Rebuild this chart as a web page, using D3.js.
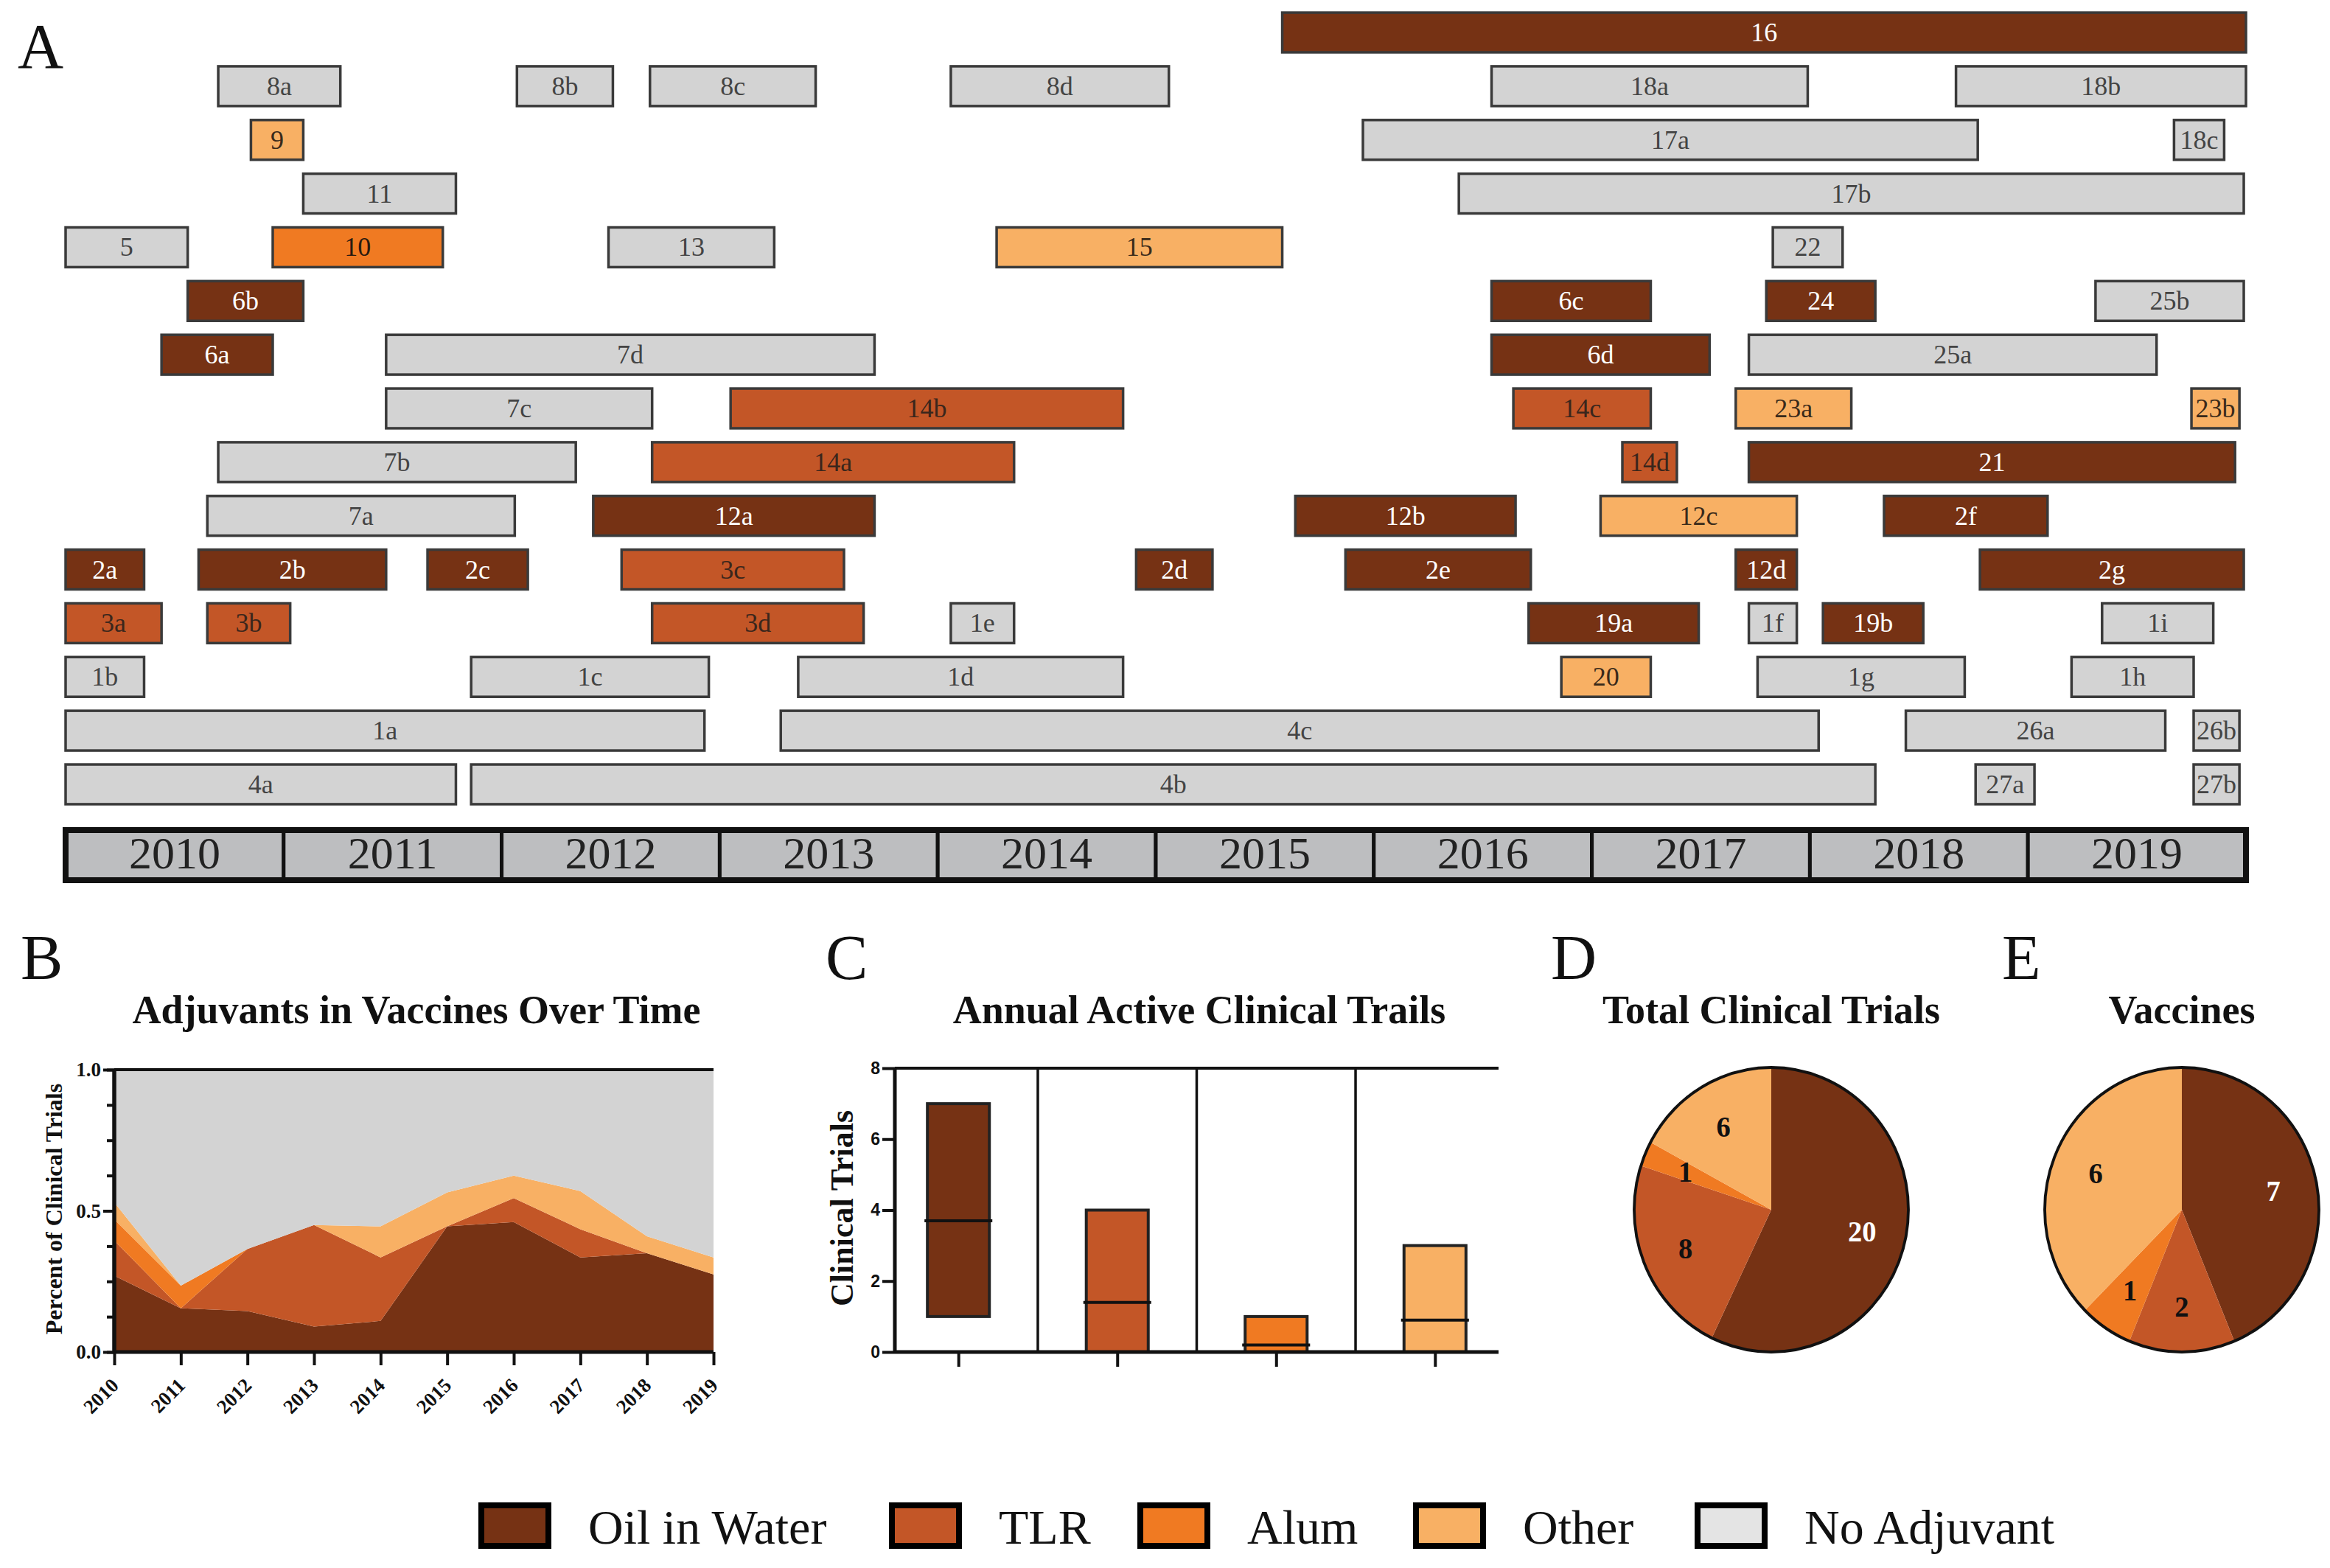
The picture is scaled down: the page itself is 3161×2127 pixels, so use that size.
<!DOCTYPE html>
<html>
<head>
<meta charset="utf-8">
<script src="https://cdn.jsdelivr.net/npm/d3@7"></script>
<style>
  body { margin: 0; background: #fff; }
</style>
</head>
<body>
<svg id="fig"></svg>
<script>
// ---- shared categories ----
const typeKeys   = ["oil", "tlr", "alum", "other", "none"];
const typeNames  = ["Oil in Water", "TLR", "Alum", "Other", "No Adjuvant"];
const typeColors = ["#763214", "#C35627", "#F07A22", "#F8B064", "#D3D3D3"];
const legendFill = ["#763214", "#C35627", "#F07A22", "#F8B064", "#E4E4E4"];

// ---- panel A : trial timeline ----
const years = [2010, 2011, 2012, 2013, 2014, 2015, 2016, 2017, 2018, 2019];
const trialLabels = ["16",
  "8a","8b","8c","8d","18a","18b",
  "9","17a","18c",
  "11","17b",
  "5","10","13","15","22",
  "6b","6c","24","25b",
  "6a","7d","6d","25a",
  "7c","14b","14c","23a","23b",
  "7b","14a","14d","21",
  "7a","12a","12b","12c","2f",
  "2a","2b","2c","3c","2d","2e","12d","2g",
  "3a","3b","3d","1e","19a","1f","19b","1i",
  "1b","1c","1d","20","1g","1h",
  "1a","4c","26a","26b",
  "4a","4b","27a","27b"];
const trialRows = [0,
  1,1,1,1,1,1,
  2,2,2,
  3,3,
  4,4,4,4,4,
  5,5,5,5,
  6,6,6,6,
  7,7,7,7,7,
  8,8,8,8,
  9,9,9,9,9,
  10,10,10,10,10,10,10,10,
  11,11,11,11,11,11,11,11,
  12,12,12,12,12,12,
  13,13,13,13,
  14,14,14,14];
const trialTypes = ["oil",
  "none","none","none","none","none","none",
  "other","none","none",
  "none","none",
  "none","alum","none","other","none",
  "oil","oil","oil","none",
  "oil","none","oil","none",
  "none","tlr","tlr","other","other",
  "none","tlr","tlr","oil",
  "none","oil","oil","other","oil",
  "oil","oil","oil","tlr","oil","oil","oil","oil",
  "tlr","tlr","tlr","none","oil","none","oil","none",
  "none","none","none","other","none","none",
  "none","none","none","none",
  "none","none","none","none"];
const trialStart = [2015.58,
  2010.70,2012.07,2012.68,2014.06,2016.54,2018.67,
  2010.85,2015.95,2019.67,
  2011.09,2016.39,
  2010.00,2010.95,2012.49,2014.27,2017.83,
  2010.56,2016.54,2017.80,2019.31,
  2010.44,2011.47,2016.54,2017.72,
  2011.47,2013.05,2016.64,2017.66,2019.75,
  2010.70,2012.69,2017.14,2017.72,
  2010.65,2012.42,2015.64,2017.04,2018.34,
  2010.00,2010.61,2011.66,2012.55,2014.91,2015.87,2017.66,2018.78,
  2010.00,2010.65,2012.69,2014.06,2016.71,2017.72,2018.06,2019.34,
  2010.00,2011.86,2013.36,2016.86,2017.76,2019.20,
  2010.00,2013.28,2018.44,2019.76,
  2010.00,2011.86,2018.76,2019.76];
const trialEnd = [2020.00,
  2011.26,2012.51,2013.44,2015.06,2017.99,2020.00,
  2011.09,2018.77,2019.90,
  2011.79,2019.99,
  2010.56,2011.73,2013.25,2015.58,2018.15,
  2011.09,2017.27,2018.30,2019.99,
  2010.95,2013.71,2017.54,2019.59,
  2012.69,2014.85,2017.27,2018.19,2019.97,
  2012.34,2014.35,2017.39,2019.95,
  2012.06,2013.71,2016.65,2017.94,2019.09,
  2010.36,2011.47,2012.12,2013.57,2015.26,2016.72,2017.94,2019.99,
  2010.44,2011.03,2013.66,2014.35,2017.49,2017.94,2018.52,2019.85,
  2010.36,2012.95,2014.85,2017.27,2018.71,2019.76,
  2012.93,2018.04,2019.63,2019.97,
  2011.79,2018.30,2019.03,2019.97];

// ---- panel B : share of trials per adjuvant ----
const shareYears = [2010, 2011, 2012, 2013, 2014, 2015, 2016, 2017, 2018, 2019];
const shareOil   = [0.27, 0.155, 0.145, 0.09, 0.11, 0.445, 0.46, 0.335, 0.35, 0.275];
const shareTLR   = [0.125, 0, 0.22, 0.36, 0.225, 0, 0.085, 0.10, 0, 0];
const shareAlum  = [0.075, 0.08, 0, 0, 0, 0, 0, 0, 0, 0];
const shareOther = [0.06, 0, 0, 0, 0.11, 0.12, 0.08, 0.135, 0.06, 0.06];
const shareNone  = [0.47, 0.765, 0.635, 0.55, 0.555, 0.435, 0.375, 0.43, 0.59, 0.665];

// ---- panel C : annual active trials (min / max / mean) ----
const activeMin  = [1, 0, 0, 0];
const activeMax  = [7, 4, 1, 3];
const activeMean = [3.7, 1.4, 0.2, 0.9];

// ---- panels D, E ----
const totalTrials   = [20, 8, 1, 6];
const vaccineCounts = [7, 2, 1, 6];

const SERIF = '"Liberation Serif", "DejaVu Serif", serif';
const SANS = '"Liberation Sans", Arial, sans-serif';
const color = d3.scaleOrdinal().domain(typeKeys).range(typeColors);
const textColor = {oil: "#fff", tlr: "#3a261c", alum: "#2a1a10", other: "#3a2a1a", none: "#444"};

const svg = d3.select("#fig").attr("width", 3161).attr("height", 2127)
  .style("font-family", SERIF);
svg.append("rect").attr("width", 3161).attr("height", 2127).attr("fill", "#fff");

// panel letters
const letters = [["A", 24, 92], ["B", 28, 1328], ["C", 1120, 1328], ["D", 2104, 1328], ["E", 2716, 1328]];
svg.selectAll("text.letter").data(letters).join("text")
  .attr("class", "letter")
  .attr("x", d => d[1]).attr("y", d => d[2])
  .attr("font-size", 86).attr("fill", "#111")
  .text(d => d[0]);

// ================= Panel A =================
const xT = d3.scaleLinear().domain([2010, 2020]).range([89, 3047]);
const yT = d3.scaleBand().domain(d3.range(15)).range([7.6, 1100.4]).paddingInner(0.26).paddingOuter(0.13);

const trials = trialLabels.map((l, i) => ({label: l, row: trialRows[i], type: trialTypes[i], s: trialStart[i], e: trialEnd[i]}));
const gA = svg.append("g");
const tg = gA.selectAll("g.trial").data(trials).join("g").attr("class", "trial");
tg.append("rect")
  .attr("x", d => xT(d.s)).attr("y", d => yT(d.row))
  .attr("width", d => xT(d.e) - xT(d.s)).attr("height", yT.bandwidth())
  .attr("fill", d => color(d.type))
  .attr("stroke", "#3a3a3a").attr("stroke-width", 3.5);
tg.append("text")
  .attr("x", d => (xT(d.s) + xT(d.e)) / 2)
  .attr("y", d => yT(d.row) + yT.bandwidth() / 2 + 12)
  .attr("text-anchor", "middle").attr("font-size", 36)
  .attr("fill", d => textColor[d.type])
  .text(d => d.label);

// year strip
const yearG = gA.append("g");
yearG.selectAll("rect").data(years).join("rect")
  .attr("x", d => xT(d)).attr("y", 1126)
  .attr("width", d => xT(d + 1) - xT(d)).attr("height", 68)
  .attr("fill", "#BDBEC0").attr("stroke", "#111").attr("stroke-width", 5);
yearG.append("rect").attr("x", xT(2010)).attr("y", 1126)
  .attr("width", xT(2020) - xT(2010)).attr("height", 68)
  .attr("fill", "none").attr("stroke", "#111").attr("stroke-width", 8);
yearG.selectAll("text").data(years).join("text")
  .attr("x", d => xT(d + 0.5)).attr("y", 1178)
  .attr("text-anchor", "middle").attr("font-size", 62).attr("fill", "#222")
  .text(d => d);

// ================= Panel B =================
const bL = 155, bR = 968, bT = 1451, bB = 1834;
const xB = d3.scaleLinear().domain([2010, 2019]).range([bL, bR]);
const yB = d3.scaleLinear().domain([0, 1]).range([bB, bT]);
const shareRows = shareYears.map((yr, i) => ({year: yr, oil: shareOil[i], tlr: shareTLR[i], alum: shareAlum[i], other: shareOther[i], none: shareNone[i]}));
const stacked = d3.stack().keys(typeKeys)(shareRows);
const area = d3.area().x(d => xB(d.data.year)).y0(d => yB(d[0])).y1(d => yB(d[1]));
const gB = svg.append("g");
gB.selectAll("path.layer").data(stacked).join("path")
  .attr("class", "layer").attr("d", area).attr("fill", d => color(d.key));

gB.append("line").attr("x1", bL).attr("x2", bR).attr("y1", bT).attr("y2", bT)
  .attr("stroke", "#111").attr("stroke-width", 4);

function styleAxis(a, font, size) {
  a.selectAll("path.domain").attr("stroke", "#111").attr("stroke-width", 5);
  a.selectAll("line").attr("stroke", "#111").attr("stroke-width", 4);
  a.selectAll("text").style("font-family", font).attr("font-weight", "bold")
    .attr("font-size", size).attr("fill", "#111");
}

const axBminor = gB.append("g").attr("transform", `translate(${bL},0)`)
  .call(d3.axisLeft(yB).tickValues(d3.range(0, 1.0001, 0.125)).tickSize(10).tickFormat(""));
const axB = gB.append("g").attr("transform", `translate(${bL},0)`)
  .call(d3.axisLeft(yB).tickValues([0, 0.5, 1]).tickSize(15).tickPadding(3).tickFormat(d3.format(".1f")));
const axBx = gB.append("g").attr("transform", `translate(0,${bB})`)
  .call(d3.axisBottom(xB).tickValues(shareYears).tickSize(18).tickFormat(d3.format("d")));
axBx.selectAll("text")
  .attr("text-anchor", "end").attr("y", 0).attr("dy", 0)
  .attr("transform", "translate(7,47) rotate(-45)");
[axBminor, axB, axBx].forEach(a => styleAxis(a, SERIF, 27));
axBminor.select("path.domain").attr("d", `M0,${bB}V${bT}`);
axB.select("path.domain").attr("d", `M0,${bB}V${bT}`);
axBx.select("path.domain").attr("d", `M${bL},0H${bR}`);

gB.append("text").attr("transform", `translate(84,1640) rotate(-90)`)
  .attr("text-anchor", "middle").attr("font-size", 32).attr("font-weight", "bold").attr("fill", "#111")
  .text("Percent of Clinical Trials");
gB.append("text").attr("x", 565).attr("y", 1388).attr("text-anchor", "middle")
  .attr("font-size", 54).attr("font-weight", "bold").attr("fill", "#111")
  .text("Adjuvants in Vaccines Over Time");

// ================= Panel C =================
const cL = 1214, cR = 2033, cT = 1449, cB = 1834;
const xC = d3.scalePoint().domain(typeKeys.slice(0, 4)).range([cL, cR]).padding(0.4);
const stepC = xC.step();
const yC = d3.scaleLinear().domain([0, 8]).range([cB, cT]);
const gC = svg.append("g");
const activeRows = typeKeys.slice(0, 4).map((k, i) => ({key: k, min: activeMin[i], max: activeMax[i], mean: activeMean[i]}));

// dividers between categories
gC.selectAll("line.div").data(typeKeys.slice(1, 4)).join("line").attr("class", "div")
  .attr("x1", d => xC(d) - stepC / 2).attr("x2", d => xC(d) - stepC / 2)
  .attr("y1", cT).attr("y2", cB).attr("stroke", "#111").attr("stroke-width", 3.5);
gC.append("line").attr("x1", cL).attr("x2", cR).attr("y1", cT).attr("y2", cT)
  .attr("stroke", "#111").attr("stroke-width", 4);

const barW = stepC * 0.39;
gC.selectAll("rect.rng").data(activeRows).join("rect").attr("class", "rng")
  .attr("x", d => xC(d.key) - barW / 2).attr("y", d => yC(d.max))
  .attr("width", barW).attr("height", d => yC(d.min) - yC(d.max))
  .attr("fill", d => color(d.key)).attr("stroke", "#222").attr("stroke-width", 4);
gC.selectAll("line.mean").data(activeRows).join("line").attr("class", "mean")
  .attr("x1", d => xC(d.key) - barW / 2 - 4).attr("x2", d => xC(d.key) + barW / 2 + 4)
  .attr("y1", d => yC(d.mean)).attr("y2", d => yC(d.mean))
  .attr("stroke", "#111").attr("stroke-width", 4);

const axC = gC.append("g").attr("transform", `translate(${cL},0)`)
  .call(d3.axisLeft(yC).tickValues([0, 2, 4, 6, 8]).tickSize(17).tickPadding(3));
const axCx = gC.append("g").attr("transform", `translate(0,${cB})`)
  .call(d3.axisBottom(xC).tickSize(20).tickFormat(""));
[axC, axCx].forEach(a => styleAxis(a, SANS, 23));
axC.select("path.domain").attr("d", `M0,${cB}V${cT}`);
axCx.select("path.domain").attr("d", `M${cL},0H${cR}`);

gC.append("text").attr("transform", `translate(1157,1639) rotate(-90)`)
  .attr("text-anchor", "middle").attr("font-size", 44).attr("font-weight", "bold").attr("fill", "#111")
  .text("Clinical Trials");
gC.append("text").attr("x", 1627).attr("y", 1388).attr("text-anchor", "middle")
  .attr("font-size", 54).attr("font-weight", "bold").attr("fill", "#111")
  .text("Annual Active Clinical Trails");

// ================= Panels D & E =================
function drawPie(cx, title, counts) {
  const ry = 193, rx = 186;
  const g = svg.append("g").attr("transform", `translate(${cx},1641) scale(${rx / ry},1)`);
  const pie = d3.pie().sort(null).value(d => d.v);
  const arcs = pie(counts.map((v, i) => ({v: v, key: typeKeys[i]})));
  const arc = d3.arc().innerRadius(0).outerRadius(ry);
  const lab = d3.arc().innerRadius(ry * 0.68).outerRadius(ry * 0.68);
  g.selectAll("path").data(arcs).join("path").attr("d", arc).attr("fill", d => color(d.data.key));
  g.append("circle").attr("r", ry).attr("fill", "none").attr("stroke", "#111").attr("stroke-width", 4);
  g.selectAll("text").data(arcs).join("text")
    .attr("transform", d => `translate(${lab.centroid(d)})`)
    .attr("dy", 14).attr("text-anchor", "middle")
    .attr("font-size", 40).attr("font-weight", "bold")
    .attr("fill", d => d.data.key == "oil" ? "#fff" : "#111")
    .text(d => d.data.v);
  svg.append("text").attr("x", cx).attr("y", 1388).attr("text-anchor", "middle")
    .attr("font-size", 54).attr("font-weight", "bold").attr("fill", "#111").text(title);
}
drawPie(2403, "Total Clinical Trials", totalTrials);
drawPie(2960, "Vaccines", vaccineCounts);

// ================= Legend =================
const legX = [653, 1210, 1547, 1921, 2303];
const lg = svg.append("g").selectAll("g").data(typeNames).join("g")
  .attr("transform", (d, i) => `translate(${legX[i]},2042)`);
lg.append("rect").attr("width", 91).attr("height", 55)
  .attr("fill", (d, i) => legendFill[i]).attr("stroke", "#000").attr("stroke-width", 8);
lg.append("text").attr("x", 145).attr("y", 52).attr("font-size", 66).attr("fill", "#111")
  .text(d => d);
</script>
</body>
</html>
